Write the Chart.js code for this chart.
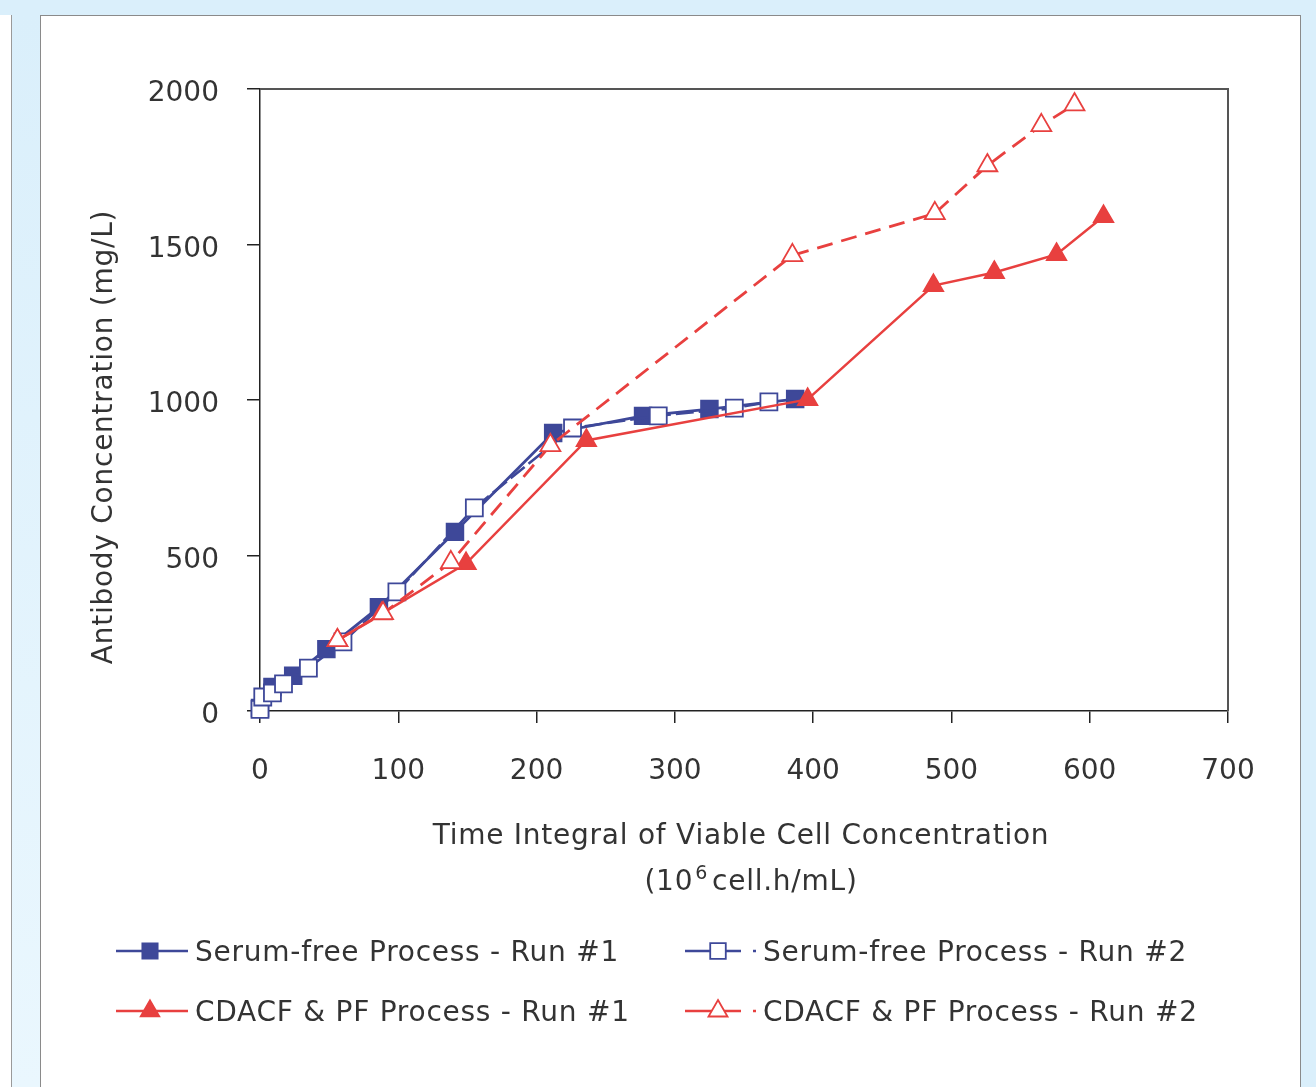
<!DOCTYPE html>
<html>
<head>
<meta charset="utf-8">
<script src="https://cdn.jsdelivr.net/npm/chart.js@4.4.0/dist/chart.umd.min.js"></script>
<style>
  html, body { margin:0; padding:0; }
  body { width:1316px; height:1087px; background:#daeffb; position:relative; overflow:hidden; font-family:"DejaVu Sans", Verdana, sans-serif; }
  #leftWhite { position:absolute; left:0; top:15px; width:11px; height:1072px; background:#fff; border-right:1px solid #9a9a9a; }
  #band { position:absolute; left:12px; top:15px; width:28px; height:1072px; background:linear-gradient(#daeffb, #eaf7fe); }
  #main { position:absolute; left:40px; top:15px; width:1259px; height:1072px; background:#fff; border-left:1px solid #8a8a8a; border-top:1px solid #8a8a8a; border-right:1px solid #8a8a8a; }
  #wrap { position:absolute; left:0; top:0; width:1316px; height:1087px; }
</style>
</head>
<body>
<div id="leftWhite"></div>
<div id="band"></div>
<div id="main"></div>
<div id="wrap"><canvas id="c" width="1316" height="1087"></canvas></div>
<script>
// ---- data ----
const xTicks = [0, 100, 200, 300, 400, 500, 600, 700];
const yTicks = [0, 500, 1000, 1500, 2000];

const sf1X = [0, 9, 24, 48, 86, 141, 212, 277, 325, 387];
const sf1Y = [10, 77, 113, 199, 334, 576, 894, 949, 971, 1003];

const sf2X = [0, 2, 9, 17, 35, 60, 99, 155, 226, 288, 343, 368];
const sf2Y = [5, 45, 58, 87, 138, 222, 383, 653, 910, 949, 974, 994];

const cd1X = [56, 88, 149, 236, 396, 487, 531, 576, 610];
const cd1Y = [227, 313, 474, 870, 1002, 1368, 1410, 1468, 1590];

const cd2X = [56, 89, 138, 210, 385, 488, 526, 565, 589];
const cd2Y = [227, 314, 478, 854, 1465, 1600, 1754, 1883, 1950];

const labels = ["Serum-free Process - Run #1", "Serum-free Process - Run #2",
                "CDACF & PF Process - Run #1", "CDACF & PF Process - Run #2"];
const xTitle1 = "Time Integral of Viable Cell Concentration";
const xTitle2 = ["(10", "6", "cell.h/mL)"];
const yTitle = "Antibody Concentration (mg/L)";

const BLUE = '#3e4899';
const RED = '#e8403f';
const TEXT = '#333333';
const FONT = '"DejaVu Sans", Verdana, sans-serif';
const FS = 28;
const LS = '0.75px';

const pts = (xs, ys) => xs.map((x, i) => ({x: x, y: ys[i]}));

const datasets = [
  { label: labels[0], data: pts(sf1X, sf1Y), borderColor: BLUE, backgroundColor: BLUE,
    pointStyle: 'rect', pointRadius: 12, pointBorderWidth: 1.5, pointBackgroundColor: BLUE, pointBorderColor: BLUE,
    borderWidth: 2.8, order: 3 },
  { label: labels[1], data: pts(sf2X, sf2Y), borderColor: BLUE, backgroundColor: '#fff',
    pointStyle: 'rect', pointRadius: 12, pointBorderWidth: 1.8, pointBackgroundColor: '#fff', pointBorderColor: BLUE,
    borderWidth: 2.6, borderDash: [18, 5], order: 2 },
  { label: labels[2], data: pts(cd1X, cd1Y), borderColor: RED, backgroundColor: RED,
    pointStyle: 'triangle', pointRadius: 11.5, pointBorderWidth: 1.5, pointBackgroundColor: RED, pointBorderColor: RED,
    borderWidth: 2.5, order: 1 },
  { label: labels[3], data: pts(cd2X, cd2Y), borderColor: RED, backgroundColor: '#fff',
    pointStyle: 'triangle', pointRadius: 11.5, pointBorderWidth: 1.8, pointBackgroundColor: '#fff', pointBorderColor: RED,
    borderWidth: 2.8, borderDash: [16, 9], order: 0 }
];

function setFont(ctx, size) {
  ctx.font = size + 'px ' + FONT;
  ctx.letterSpacing = LS;
}

const decor = {
  id: 'decor',
  beforeDatasetsDraw(chart) {
    const {ctx, chartArea: a} = chart;
    ctx.save();
    ctx.strokeStyle = '#555';
    ctx.lineWidth = 2;
    ctx.beginPath();
    ctx.moveTo(a.left, a.top);
    ctx.lineTo(a.right, a.top);
    ctx.lineTo(a.right, a.bottom);
    ctx.stroke();
    ctx.restore();
  },
  afterDraw(chart) {
    const {ctx} = chart;
    ctx.save();
    ctx.fillStyle = TEXT;
    setFont(ctx, FS);
    ctx.textBaseline = 'middle';
    // x title
    ctx.textAlign = 'center';
    ctx.fillText(xTitle1, 741, 837);
    // second line with superscript
    const w1 = ctx.measureText(xTitle2[0]).width;
    const w3 = ctx.measureText(xTitle2[2]).width;
    setFont(ctx, 19);
    const w2 = ctx.measureText(xTitle2[1]).width;
    const gap = 6;
    const total = w1 + w2 + gap + w3;
    let sx = 751 - total / 2;
    ctx.textAlign = 'left';
    setFont(ctx, FS);
    ctx.fillText(xTitle2[0], sx, 883);
    setFont(ctx, 19);
    ctx.fillText(xTitle2[1], sx + w1 + 2, 874);
    setFont(ctx, FS);
    ctx.fillText(xTitle2[2], sx + w1 + w2 + gap, 883);
    // y title
    ctx.save();
    ctx.translate(105, 437);
    ctx.rotate(-Math.PI / 2);
    ctx.textAlign = 'center';
    ctx.fillText(yTitle, 0, 0);
    ctx.restore();

    // legend
    const rows = [951, 1011];
    const cols = [{l0: 116, l1: 188, m: 150, t: 195}, {l0: 685, l1: 756, m: 718, t: 763}];
    chart.data.datasets.forEach((ds, i) => {
      const c = cols[i % 2], y = rows[Math.floor(i / 2)];
      ctx.save();
      ctx.strokeStyle = ds.borderColor;
      ctx.lineWidth = 2.5;
      if (i % 2 === 1) {
        ctx.beginPath();
        ctx.moveTo(c.l0, y); ctx.lineTo(c.l0 + 56, y);
        ctx.stroke();
        ctx.beginPath();
        ctx.moveTo(c.l1 - 3, y); ctx.lineTo(c.l1, y);
        ctx.stroke();
      } else {
        ctx.beginPath();
        ctx.moveTo(c.l0, y); ctx.lineTo(c.l1, y);
        ctx.stroke();
      }
      ctx.fillStyle = ds.pointBackgroundColor;
      ctx.strokeStyle = ds.pointBorderColor;
      ctx.lineWidth = ds.pointBorderWidth;
      Chart.helpers.drawPoint(ctx, {pointStyle: ds.pointStyle, radius: 11, rotation: 0, borderWidth: ds.pointBorderWidth}, c.m, y);
      ctx.restore();
      ctx.fillStyle = TEXT;
      setFont(ctx, FS);
      ctx.textAlign = 'left';
      ctx.textBaseline = 'middle';
      ctx.fillText(ds.label, c.t, y + 3);
    });
    ctx.restore();
  }
};

new Chart(document.getElementById('c'), {
  type: 'line',
  data: { datasets },
  plugins: [decor],
  options: {
    responsive: false,
    animation: false,
    clip: false,
    layout: { padding: { left: 80, right: 88, top: 89, bottom: 256 } },
    plugins: { legend: { display: false }, tooltip: { enabled: false } },
    elements: { line: { tension: 0 } },
    scales: {
      x: {
        type: 'linear', min: 0, max: 700,
        afterBuildTicks: s => { s.ticks = xTicks.map(v => ({value: v})); },
        afterFit: s => { s.height = 120; },
        ticks: { color: TEXT, font: { family: FONT, size: FS }, padding: 32, callback: v => String(v) },
        grid: { display: true, drawOnChartArea: false, drawTicks: true, tickLength: 12, color: '#222', lineWidth: 1.5 },
        border: { display: true, color: '#222', width: 1.5 }
      },
      y: {
        type: 'linear', min: 0, max: 2000,
        afterBuildTicks: s => { s.ticks = yTicks.map(v => ({value: v})); },
        afterFit: s => { s.width = 180; },
        ticks: { color: TEXT, font: { family: FONT, size: FS }, padding: 28, labelOffset: 5, callback: v => String(v) },
        grid: { display: true, drawOnChartArea: false, drawTicks: true, tickLength: 13, color: '#222', lineWidth: 1.5 },
        border: { display: true, color: '#222', width: 1.5 }
      }
    }
  }
});
</script>
</body>
</html>
